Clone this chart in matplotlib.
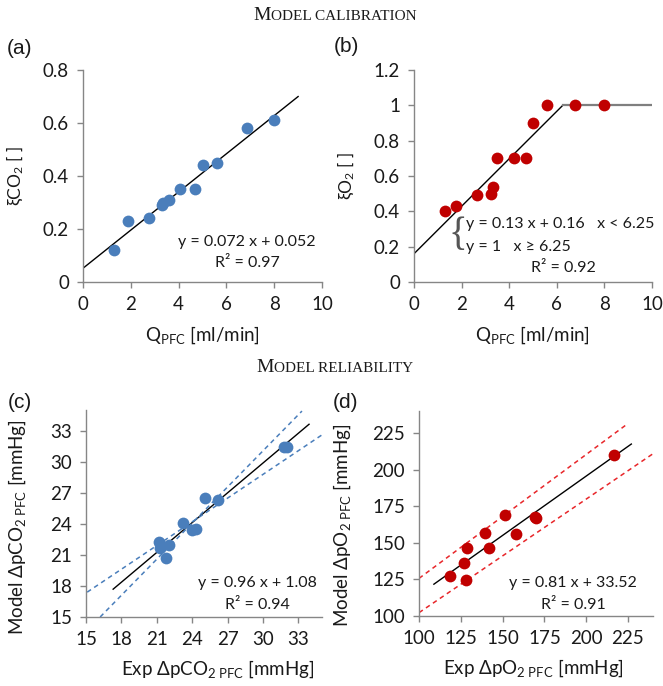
import numpy as np
import matplotlib
matplotlib.use('Agg')
import matplotlib.pyplot as plt
from matplotlib.offsetbox import TextArea, HPacker, AnnotationBbox

plt.rcParams['font.family'] = ['Lato', 'DejaVu Sans']
plt.rcParams['mathtext.fontset'] = 'custom'
plt.rcParams['mathtext.rm'] = 'Lato'
plt.rcParams['mathtext.it'] = 'Lato:italic'
plt.rcParams['mathtext.bf'] = 'Lato:bold'

# (a) calibration CO2
a_q = [1.3, 1.9, 2.75, 3.3, 3.35, 3.6, 4.05, 4.7, 5.0, 5.6, 6.85, 8.0]
a_xi = [0.12, 0.23, 0.24, 0.29, 0.30, 0.31, 0.35, 0.35, 0.44, 0.45, 0.58, 0.61]
a_fit = [0.072, 0.052]
a_fit_range = [0, 9]

# (b) calibration O2
b_q = [1.3, 1.75, 2.65, 3.25, 3.3, 3.5, 4.2, 4.7, 5.0, 5.6, 6.75, 8.0]
b_xi = [0.40, 0.43, 0.49, 0.50, 0.54, 0.70, 0.70, 0.70, 0.90, 1.0, 1.0, 1.0]
b_fit_x = [0, 6.25]
b_fit_y = [0.16, 1.0]
b_flat_x = [6.25, 10]
b_flat_y = [1.0, 1.0]

# (c) reliability CO2
c_exp = [21.2, 21.3, 21.8, 22.0, 23.2, 24.0, 24.3, 25.1, 26.2, 31.8, 32.0]
c_mod = [22.2, 21.7, 20.7, 22.0, 24.1, 23.4, 23.5, 26.5, 26.3, 31.4, 31.4]
c_fit = [0.96, 1.08]
c_fit_range = [17.3, 33.9]
c_band1_x = [16.2, 33.3]
c_band1_y = [15.0, 34.9]
c_band2_x = [15.1, 35.0]
c_band2_y = [17.4, 32.6]

# (d) reliability O2
d_exp = [118.8, 127.2, 128.2, 128.8, 139.7, 142.1, 151.6, 157.9, 169.2, 170.0, 216.5]
d_mod = [127.3, 136.4, 124.5, 146.6, 156.4, 146.6, 168.9, 155.9, 167.7, 166.8, 210.2]
d_fit = [0.81, 33.52]
d_fit_range = [108.9, 227.0]
d_band1_x = [100, 224.4]
d_band1_y = [125.7, 230.9]
d_band2_x = [100, 240]
d_band2_y = [102.3, 210.8]

BLUE = '#4a7ebb'
RED = '#c00000'
GREY = '#868686'
TXT = '#1a1a1a'
TICK_FS = 13.5
LAB_FS = 13.5
EQ_FS = 11.5

fig = plt.figure(figsize=(6.63, 6.86), dpi=100)


def style_axes(ax):
    for s in ['top', 'right']:
        ax.spines[s].set_visible(False)
    for s in ['left', 'bottom']:
        ax.spines[s].set_color(GREY)
        ax.spines[s].set_linewidth(1.0)
    ax.tick_params(direction='out', length=4, width=1, color=GREY,
                   labelsize=TICK_FS, labelcolor=TXT, pad=6)


def panel_label(x, y, s):
    fig.text(x / 663, 1 - y / 686, s, ha='center', va='center', fontsize=15,
             family=['Liberation Sans'], color=TXT)


# ---- (a)
ax = fig.add_axes([0.1252, 0.5889, 0.3605, 0.309])
style_axes(ax)
ax.scatter(a_q, a_xi, s=72, color=BLUE, zorder=3, linewidths=0)
xs = np.array(a_fit_range)
ax.plot(xs, np.polyval(a_fit, xs), color='black', lw=1, zorder=2)
ax.set_xlim(0, 10)
ax.set_ylim(0, 0.8)
ax.set_xticks([0, 2, 4, 6, 8, 10])
ax.set_yticks([0, 0.2, 0.4, 0.6, 0.8])
ax.set_yticklabels(['0', '0.2', '0.4', '0.6', '0.8'])
ax.set_xlabel(r'Q$_{\mathrm{PFC}}$ [ml/min]', fontsize=LAB_FS, color=TXT)
ax.set_ylabel(r'ξCO$_2$ [ ]', fontsize=12.5, color=TXT)
ax.xaxis.set_label_coords(0.5, -0.2)
ax.yaxis.set_label_coords(-0.24, 0.5)
ax.text(6.86, 0.151, 'y = 0.072 x + 0.052', ha='center', va='center', fontsize=EQ_FS, color=TXT)
ax.text(6.86, 0.072, 'R² = 0.97', ha='center', va='center', fontsize=EQ_FS, color=TXT)
panel_label(20, 48, '(a)')

# ---- (b)
ax = fig.add_axes([0.6244, 0.5889, 0.359, 0.309])
style_axes(ax)
ax.scatter(b_q, b_xi, s=72, color=RED, zorder=3, linewidths=0)
ax.plot(b_fit_x, b_fit_y, color='black', lw=1, zorder=2)
ax.plot(b_flat_x, b_flat_y, color='#7f7f7f', lw=1.6, zorder=2)
ax.set_xlim(0, 10)
ax.set_ylim(0, 1.2)
ax.set_xticks([0, 2, 4, 6, 8, 10])
ax.set_yticks([0, 0.2, 0.4, 0.6, 0.8, 1.0, 1.2])
ax.set_yticklabels(['0', '0.2', '0.4', '0.6', '0.8', '1', '1.2'])
ax.set_xlabel(r'Q$_{\mathrm{PFC}}$ [ml/min]', fontsize=LAB_FS, color=TXT)
ax.set_ylabel(r'ξO$_2$ [ ]', fontsize=12.5, color=TXT)
ax.xaxis.set_label_coords(0.5, -0.2)
ax.yaxis.set_label_coords(-0.24, 0.5)
ax.text(1.85, 0.262, '{', ha='center', va='center', fontsize=28,
        family=['Liberation Serif'], color='#555555')
ax.text(2.18, 0.328, 'y = 0.13 x + 0.16   x < 6.25', ha='left', va='center', fontsize=EQ_FS, color=TXT)
ax.text(2.18, 0.198, 'y = 1   x ≥ 6.25', ha='left', va='center', fontsize=EQ_FS, color=TXT)
ax.text(6.3, 0.079, 'R² = 0.92', ha='center', va='center', fontsize=EQ_FS, color=TXT)
panel_label(346, 47, '(b)')

# ---- (c)
ax = fig.add_axes([0.1297, 0.1006, 0.356, 0.3017])
style_axes(ax)
ax.scatter(c_exp, c_mod, s=72, color=BLUE, zorder=3, linewidths=0)
xs = np.array(c_fit_range)
ax.plot(xs, np.polyval(c_fit, xs), color='black', lw=1, zorder=2)
ax.plot(c_band1_x, c_band1_y, color=BLUE, lw=1.1, ls=(0, (3, 2.5)), zorder=2)
ax.plot(c_band2_x, c_band2_y, color=BLUE, lw=1.1, ls=(0, (3, 2.5)), zorder=2)
ax.set_xlim(15, 35)
ax.set_ylim(15, 35)
ax.set_xticks([15, 18, 21, 24, 27, 30, 33])
ax.set_yticks([15, 18, 21, 24, 27, 30, 33])
ax.set_xlabel(r'Exp ΔpCO$_{\mathrm{2\ PFC}}$ [mmHg]', fontsize=LAB_FS, color=TXT)
ax.set_ylabel(r'Model ΔpCO$_{\mathrm{2\ PFC}}$ [mmHg]', fontsize=LAB_FS, color=TXT)
ax.xaxis.set_label_coords(0.56, -0.2)
ax.yaxis.set_label_coords(-0.245, 0.435)
ax.text(29.5, 18.3, 'y = 0.96 x + 1.08', ha='center', va='center', fontsize=EQ_FS, color=TXT)
ax.text(29.5, 16.2, 'R² = 0.94', ha='center', va='center', fontsize=EQ_FS, color=TXT)
panel_label(20, 402, '(c)')

# ---- (d)
ax = fig.add_axes([0.632, 0.102, 0.353, 0.299])
style_axes(ax)
ax.scatter(d_exp, d_mod, s=72, color=RED, zorder=3, linewidths=0)
xs = np.array(d_fit_range)
ax.plot(xs, np.polyval(d_fit, xs), color='black', lw=1, zorder=2)
ax.plot(d_band1_x, d_band1_y, color='#e8262a', lw=1.1, ls=(0, (3, 2.5)), zorder=2)
ax.plot(d_band2_x, d_band2_y, color='#e8262a', lw=1.1, ls=(0, (3, 2.5)), zorder=2)
ax.set_xlim(100, 240)
ax.set_ylim(100, 240)
ax.set_xticks([100, 125, 150, 175, 200, 225])
ax.set_yticks([100, 125, 150, 175, 200, 225])
ax.set_xlabel(r'Exp ΔpO$_{\mathrm{2\ PFC}}$ [mmHg]', fontsize=LAB_FS, color=TXT)
ax.set_ylabel(r'Model ΔpO$_{\mathrm{2\ PFC}}$ [mmHg]', fontsize=LAB_FS, color=TXT)
ax.xaxis.set_label_coords(0.487, -0.2)
ax.yaxis.set_label_coords(-0.28, 0.44)
ax.text(192.3, 122.5, 'y = 0.81 x + 33.52', ha='center', va='center', fontsize=EQ_FS, color=TXT)
ax.text(192.3, 107.5, 'R² = 0.91', ha='center', va='center', fontsize=EQ_FS, color=TXT)
panel_label(346, 402, '(d)')


# small caps section titles
def small_caps_title(first, rest, y):
    big = TextArea(first, textprops=dict(fontsize=14, family='Liberation Serif', color=TXT))
    small = TextArea(rest, textprops=dict(fontsize=11, family='Liberation Serif', color=TXT))
    box = HPacker(children=[big, small], align='baseline', pad=0, sep=0)
    ab = AnnotationBbox(box, (0.505, y), xycoords='figure fraction', frameon=False,
                        box_alignment=(0.5, 0.5))
    fig.add_artist(ab)


small_caps_title('M', 'ODEL CALIBRATION', 1 - 15 / 686)
small_caps_title('M', 'ODEL RELIABILITY', 1 - 367 / 686)

fig.savefig('out.png', dpi=100)
